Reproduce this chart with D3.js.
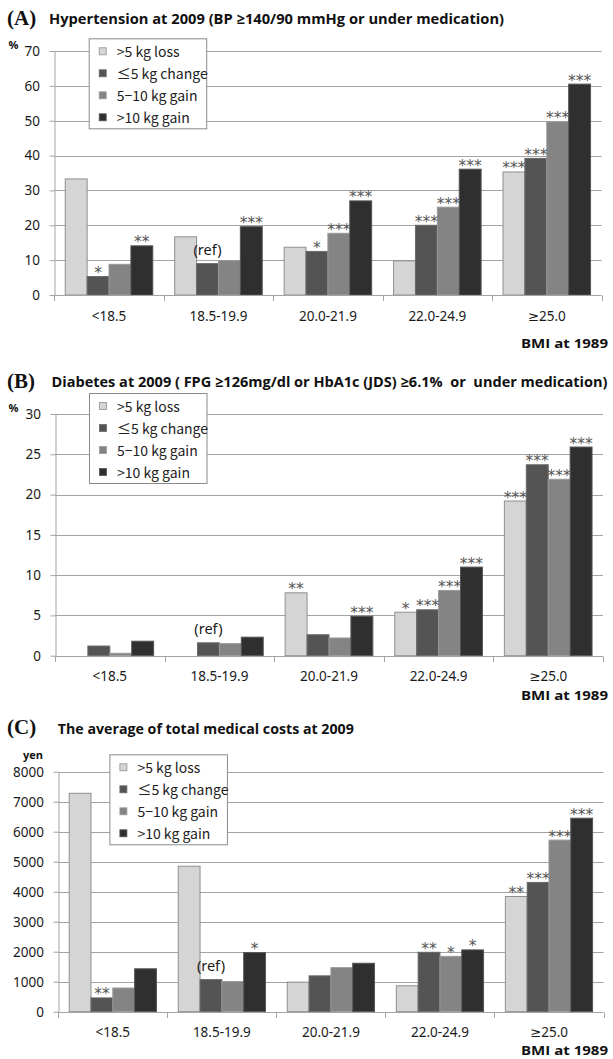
<!DOCTYPE html>
<html>
<head>
<meta charset="utf-8">
<script src="https://cdn.jsdelivr.net/npm/d3@7"></script>
<style>
  html, body { margin: 0; padding: 0; background: #fff; }
  svg { display: block; }
</style>
</head>
<body>
<svg id="chart" width="613" height="1059"></svg>
<script>
// ---------- DATA ----------
const categories = ["<18.5", "18.5-19.9", "20.0-21.9", "22.0-24.9", "≥25.0"];
const seriesNames = [">5 kg loss", "≤5 kg change", "5−10 kg gain", ">10 kg gain"];

// Panel A: Hypertension (%), one array per series across categories
const hyperLoss    = [33.3, 16.7, 13.7, 9.8, 35.3];
const hyperChange  = [5.3, 9.0, 12.5, 20.0, 39.2];
const hyperGain510 = [8.8, 9.9, 17.7, 25.2, 49.7];
const hyperGain10  = [14.1, 19.6, 27.0, 36.1, 60.5];
const hyperTicks   = [0, 10, 20, 30, 40, 50, 60, 70];
const hyperMarks = [["", "*", "", "**"], ["", "(ref)", "", "***"], ["", "*", "***", "***"],
                    ["", "***", "***", "***"], ["***", "***", "***", "***"]];

// Panel B: Diabetes (%)
const diabLoss    = [0, 0, 7.8, 5.4, 19.2];
const diabChange  = [1.2, 1.6, 2.6, 5.7, 23.7];
const diabGain510 = [0.3, 1.5, 2.2, 8.1, 21.9];
const diabGain10  = [1.8, 2.3, 4.9, 11.0, 25.9];
const diabTicks   = [0, 5, 10, 15, 20, 25, 30];
const diabMarks = [["", "", "", ""], ["", "(ref)", "", ""], ["**", "", "", "***"],
                   ["*", "***", "***", "***"], ["***", "***", "***", "***"]];

// Panel C: medical costs (yen)
const costLoss    = [7280, 4850, 985, 865, 3840];
const costChange  = [460, 1070, 1195, 1980, 4310];
const costGain510 = [790, 1005, 1470, 1845, 5720];
const costGain10  = [1430, 1970, 1615, 2060, 6450];
const costTicks   = [0, 1000, 2000, 3000, 4000, 5000, 6000, 7000, 8000];
const costMarks = [["", "**", "", ""], ["", "(ref)", "", "*"], ["", "", "", ""],
                   ["", "**", "*", "*"], ["**", "***", "***", "***"]];

const titleA = "Hypertension at 2009 (BP ≥140/90 mmHg or under medication)";
const titleB = "Diabetes at 2009 ( FPG ≥126mg/dl or HbA1c (JDS) ≥6.1%  or  under medication)";
const titleC = "The average of total medical costs at 2009";
const xAxisTitle = "BMI at 1989";

// ---------- STYLE ----------
const fills = ["#d5d5d5", "#545454", "#848484", "#2f2f2f"];
const strokes = ["#8f8f8f", "#6a6a6a", "#9a9a9a", "#555555"];
const gridColor = "#a3a3a3";
const numFont = "'Noto Sans', 'DejaVu Sans', sans-serif";
const legFont = "'Noto Sans CJK JP', 'Noto Sans', sans-serif";

const svg = d3.select("#chart");
svg.append("rect").attr("width", 613).attr("height", 1059).attr("fill", "#fff");

const panels = [
  { letter: "(A)", title: titleA, titleX: 49, titleLen: 455, titleY: 24,
    unit: "%", unitX: 13.5, unitY: 49,
    values: [hyperLoss, hyperChange, hyperGain510, hyperGain10], marks: hyperMarks,
    ticks: hyperTicks, max: 70,
    x0: 54.3, x1: 601.5, yTop: 51, y0: 295,
    leg: { x: 88.7, y: 38.3 }, bmiY: 347.5 },
  { letter: "(B)", title: titleB, titleX: 51.5, titleLen: 556, titleY: 387,
    unit: "%", unitX: 13.5, unitY: 412,
    values: [diabLoss, diabChange, diabGain510, diabGain10], marks: diabMarks,
    ticks: diabTicks, max: 30,
    x0: 55, x1: 603, yTop: 414, y0: 655.7,
    leg: { x: 89, y: 393 }, bmiY: 699.5 },
  { letter: "(C)", title: titleC, titleX: 57.8, titleLen: 296, titleY: 733.5,
    unit: "yen", unitX: 33, unitY: 759,
    values: [costLoss, costChange, costGain510, costGain10], marks: costMarks,
    ticks: costTicks, max: 8000,
    x0: 58.3, x1: 603.5, yTop: 771.7, y0: 1011.7,
    leg: { x: 109.4, y: 754.3 }, bmiY: 1055 }
];

panels.forEach(p => {
  const g = svg.append("g");

  // titles
  g.append("text").attr("x", 7).attr("y", p.titleY + 0.5)
    .attr("font-family", "'Liberation Serif', 'DejaVu Serif', serif")
    .attr("font-weight", "bold").attr("font-size", 21).attr("fill", "#111")
    .text(p.letter);
  g.append("text").attr("x", p.titleX).attr("y", p.titleY)
    .attr("font-family", "'Open Sans', 'Noto Sans', sans-serif")
    .attr("font-weight", "bold").attr("font-size", 14.5).attr("fill", "#111")
    .style("white-space", "pre")
    .attr("textLength", p.titleLen).attr("lengthAdjust", "spacingAndGlyphs")
    .text(p.title);

  const x = d3.scaleBand().domain(categories).range([p.x0, p.x1])
    .paddingInner(0.2).paddingOuter(0.1);
  const xs = d3.scaleBand().domain(d3.range(seriesNames.length)).range([0, x.bandwidth()]);
  const y = d3.scaleLinear().domain([0, p.max]).range([p.y0, p.yTop]);
  const xb = d3.scaleLinear().domain([0, categories.length]).range([p.x0, p.x1]);

  // gridlines
  g.append("g").selectAll("line").data(p.ticks.filter(t => t > 0)).join("line")
    .attr("x1", p.x0).attr("x2", p.x1)
    .attr("y1", d => Math.round(y(d)) + 0.5).attr("y2", d => Math.round(y(d)) + 0.5)
    .attr("stroke", gridColor).attr("stroke-width", 1);

  // y axis
  const yAxis = g.append("g").attr("transform", `translate(${Math.round(p.x0) + 0.5},0)`)
    .call(d3.axisLeft(y).tickValues(p.ticks).tickSize(5).tickSizeOuter(0).tickPadding(9.5)
      .tickFormat(d3.format("d")));
  yAxis.select(".domain").attr("stroke", gridColor);
  yAxis.selectAll(".tick line").attr("stroke", gridColor);
  yAxis.selectAll(".tick text").attr("font-family", numFont).attr("font-size", 13.5)
    .attr("fill", "#1a1a1a");

  // bars
  seriesNames.forEach((s, si) => {
    g.append("g").selectAll("rect")
      .data(categories.map((c, ci) => ({ c, v: p.values[si][ci] })).filter(d => d.v > 0))
      .join("rect")
      .attr("x", d => x(d.c) + xs(si))
      .attr("y", d => y(d.v))
      .attr("width", xs.bandwidth())
      .attr("height", d => y(0) - y(d.v))
      .attr("fill", fills[si])
      .attr("stroke", strokes[si]).attr("stroke-width", 1);
  });

  // x axis line and boundary ticks
  g.append("line").attr("x1", p.x0).attr("x2", p.x1)
    .attr("y1", Math.round(p.y0) + 0.5).attr("y2", Math.round(p.y0) + 0.5)
    .attr("stroke", gridColor);
  g.append("g").selectAll("line").data(d3.range(categories.length + 1)).join("line")
    .attr("x1", d => Math.round(xb(d)) + 0.5).attr("x2", d => Math.round(xb(d)) + 0.5)
    .attr("y1", Math.round(p.y0) + 0.5).attr("y2", Math.round(p.y0) + 6)
    .attr("stroke", gridColor);

  // category labels
  g.append("g").selectAll("text").data(categories).join("text")
    .attr("x", d => x(d) + x.bandwidth() / 2).attr("y", p.y0 + 25.5)
    .attr("text-anchor", "middle").attr("font-family", numFont).attr("font-size", 13.5)
    .attr("fill", "#1a1a1a").text(d => d);

  // significance marks
  categories.forEach((c, ci) => {
    p.marks[ci].forEach((m, si) => {
      if (!m) return;
      const v = p.values[si][ci];
      const cx = x(c) + xs(si) + xs.bandwidth() / 2;
      const top = y(v);
      if (m === "(ref)") {
        g.append("text").attr("x", cx).attr("y", top - 9)
          .attr("text-anchor", "middle").attr("font-family", numFont)
          .attr("font-size", 14.5).attr("fill", "#1a1a1a").text(m);
      } else {
        g.append("text").attr("x", cx).attr("y", top + 1.5)
          .attr("text-anchor", "middle").attr("font-family", "'DejaVu Sans', sans-serif")
          .attr("font-size", 15.5).attr("fill", "#555555").text(m);
      }
    });
  });

  // unit label
  g.append("text").attr("x", p.unitX).attr("y", p.unitY)
    .attr("text-anchor", "middle")
    .attr("font-family", "'Open Sans', sans-serif").attr("font-weight", "bold")
    .attr("font-size", 11).attr("fill", "#111").text(p.unit);

  // x axis title
  g.append("text").attr("x", 608).attr("y", p.bmiY).attr("text-anchor", "end")
    .attr("font-family", "'Open Sans', sans-serif").attr("font-weight", "bold")
    .attr("font-size", 13).attr("fill", "#111")
    .attr("textLength", 87).attr("lengthAdjust", "spacingAndGlyphs")
    .text(xAxisTitle);

  // legend
  const lg = g.append("g").attr("transform", `translate(${p.leg.x},${p.leg.y})`);
  lg.append("rect").attr("x", 0.5).attr("y", 0.5).attr("width", 117.5).attr("height", 90)
    .attr("fill", "#fff").attr("stroke", "#8a8a8a").attr("stroke-width", 1);
  seriesNames.forEach((s, si) => {
    const cy = 13 + si * 22;
    lg.append("rect").attr("x", 10.5).attr("y", cy - 3.5).attr("width", 7).attr("height", 7)
      .attr("fill", fills[si]).attr("stroke", strokes[si]).attr("stroke-width", 0.8);
    lg.append("text").attr("x", 28).attr("y", cy).attr("dominant-baseline", "central")
      .attr("font-family", legFont).attr("font-size", 14).attr("fill", "#222").text(s);
  });
});
</script>
</body>
</html>
